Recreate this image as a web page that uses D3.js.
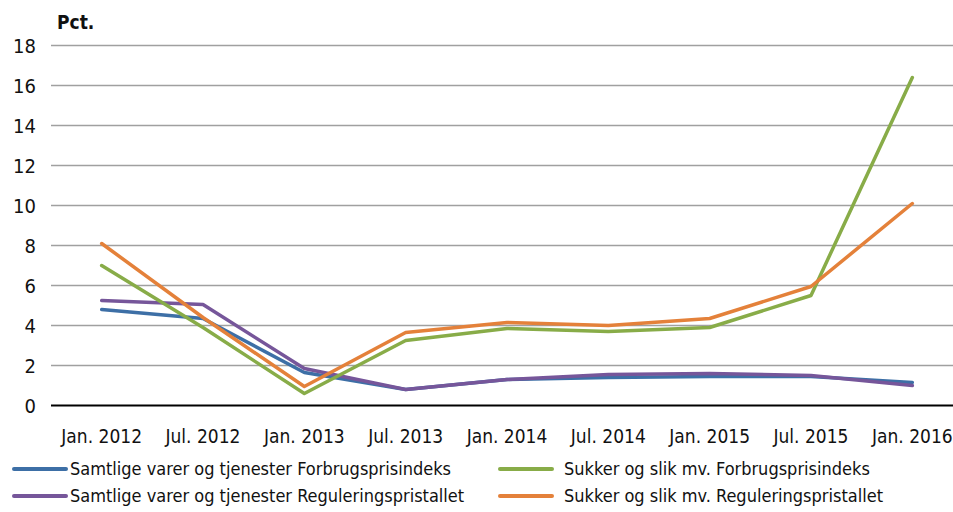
<!DOCTYPE html>
<html><head><meta charset="utf-8">
<script src="https://cdn.jsdelivr.net/npm/d3@7"></script>
<style>body{margin:0;background:#fff}svg{display:block}</style>
</head><body>
<svg id="c" width="953" height="512"></svg>
<script>
const categories = ["Jan. 2012","Jul. 2012","Jan. 2013","Jul. 2013","Jan. 2014","Jul. 2014","Jan. 2015","Jul. 2015","Jan. 2016"];
const samtligeFPI = [4.8,4.35,1.65,0.8,1.3,1.4,1.45,1.45,1.15];
const samtligeReg = [5.25,5.05,1.85,0.8,1.3,1.55,1.6,1.5,1.0];
const sukkerFPI = [7.0,3.9,0.6,3.25,3.85,3.7,3.9,5.5,16.4];
const sukkerReg = [8.1,4.4,0.95,3.65,4.15,4.0,4.35,5.95,10.1];
const yTicks = [0,2,4,6,8,10,12,14,16,18];
const seriesNames = ["Samtlige varer og tjenester Forbrugsprisindeks","Sukker og slik mv. Forbrugsprisindeks","Samtlige varer og tjenester Reguleringspristallet","Sukker og slik mv. Reguleringspristallet"];

const series = [
  {name: seriesNames[0], values: samtligeFPI, color: "#3D6FA6"},
  {name: seriesNames[2], values: samtligeReg, color: "#76569A"},
  {name: seriesNames[1], values: sukkerFPI, color: "#88AC48"},
  {name: seriesNames[3], values: sukkerReg, color: "#E4813A"}
];
const font = "'Liberation Sans Narrow','DejaVu Sans Condensed',sans-serif";
const svg = d3.select("#c");
const x = d3.scalePoint().domain(categories).range([51, 963]).padding(0.5);
const y = d3.scaleLinear().domain([0,18]).range([405.5, 45.5]);

svg.append("g").selectAll("line").data(yTicks.filter(d=>d>0)).join("line")
  .attr("x1",51).attr("x2",953).attr("y1",d=>y(d)).attr("y2",d=>y(d))
  .attr("stroke","#a0a0a0").attr("stroke-width",1.5);
svg.append("g").selectAll("text").data(yTicks).join("text")
  .attr("x",36).attr("y",d=>y(d)+7).attr("text-anchor","end")
  .attr("font-family",font).attr("font-size",20).attr("fill","#111").text(d=>d);
svg.append("line").attr("x1",51).attr("x2",953).attr("y1",y(0)).attr("y2",y(0)).attr("stroke","#000").attr("stroke-width",2);
svg.append("g").selectAll("text").data(categories).join("text")
  .attr("x",d=>x(d)).attr("y",443).attr("text-anchor","middle")
  .attr("font-family",font).attr("font-size",19).attr("fill","#111").text(d=>d);
svg.append("text").attr("x",57).attr("y",29).attr("font-family",font).attr("font-weight","bold")
  .attr("font-size",19).attr("fill","#111").text("Pct.");

const line = d3.line().x((d,i)=>x(categories[i])).y(d=>y(d));
svg.append("g").selectAll("path").data(series).join("path")
  .attr("d",d=>line(d.values)).attr("fill","none").attr("stroke",d=>d.color)
  .attr("stroke-width",3.5).attr("stroke-linejoin","round").attr("stroke-linecap","round");

const legend = [
  {s: series[0], x: 14, y: 469}, {s: series[2], x: 500, y: 469},
  {s: series[1], x: 14, y: 496}, {s: series[3], x: 500, y: 496}
];
const lg = svg.append("g").selectAll("g").data(legend).join("g").attr("transform",d=>`translate(${d.x},${d.y})`);
lg.append("line").attr("x1",0).attr("x2",52).attr("stroke",d=>d.s.color).attr("stroke-width",4).attr("stroke-linecap","round");
lg.append("text").attr("x",d=>d.x<100?56:64).attr("y",6).attr("font-family",font).attr("font-size",18).attr("fill","#111").text(d=>d.s.name);
</script>
</body></html>
